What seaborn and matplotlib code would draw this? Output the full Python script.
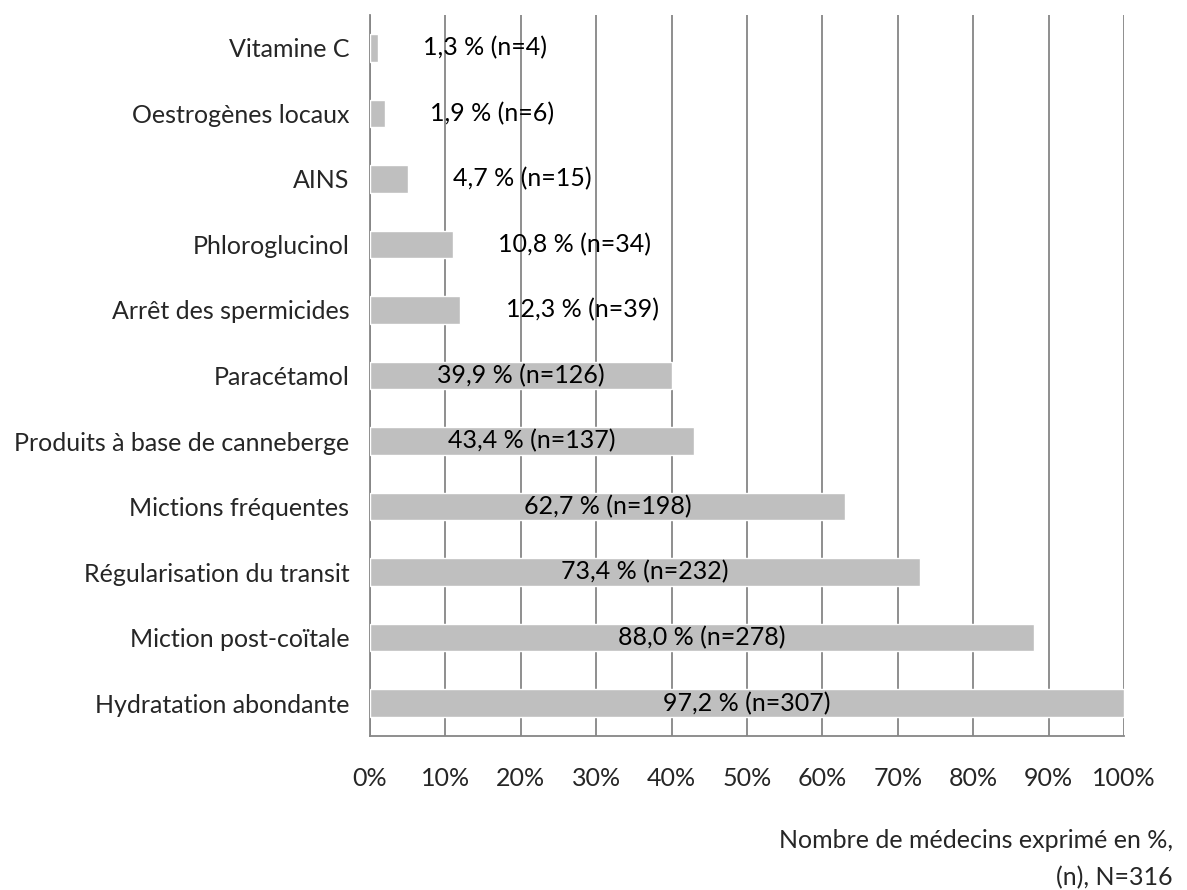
import matplotlib
matplotlib.use('Agg')
import matplotlib.pyplot as plt
import seaborn as sns
import pandas as pd
from matplotlib.ticker import MultipleLocator, FixedLocator, PercentFormatter

# Data (top to bottom)
categories = ['Vitamine C', 'Oestrogènes locaux', 'AINS', 'Phloroglucinol',
              'Arrêt des spermicides', 'Paracétamol', 'Produits à base de canneberge',
              'Mictions fréquentes', 'Régularisation du transit',
              'Miction post-coïtale', 'Hydratation abondante']
bar_values = [1, 2, 5, 11, 12, 40, 43, 63, 73, 88, 100]
labels = ['1,3 % (n=4)', '1,9 % (n=6)', '4,7 % (n=15)', '10,8 % (n=34)',
          '12,3 % (n=39)', '39,9 % (n=126)', '43,4 % (n=137)', '62,7 % (n=198)',
          '73,4 % (n=232)', '88,0 % (n=278)', '97,2 % (n=307)']

df = pd.DataFrame({'cat': categories, 'val': bar_values})

sns.set_style('white')
plt.rcParams['font.family'] = ['Lato', 'DejaVu Sans']
fs = 18
grey = '#868686'

fig = plt.figure(figsize=(11.87, 8.9), dpi=100)
ax = fig.add_axes([370 / 1187, 1 - 736 / 890, (1124 - 370) / 1187, (736 - 15) / 890])

sns.barplot(data=df, x='val', y='cat', orient='h', color='#BFBFBF',
            width=0.42, saturation=1, ax=ax, zorder=3)

ax.set_xlim(0, 100)
ax.set_ylim(len(categories) - 0.5, -0.5)
ax.xaxis.set_major_locator(MultipleLocator(10))
ax.xaxis.set_major_formatter(PercentFormatter(decimals=0))
ax.grid(axis='x', color=grey, linewidth=1.3, zorder=0)
ax.set_axisbelow(True)

# category boundary ticks on the y axis
ax.yaxis.set_minor_locator(FixedLocator([i - 0.5 for i in range(len(categories) + 1)]))
ax.tick_params(axis='y', which='major', length=0, pad=15, labelsize=fs)
ax.tick_params(axis='y', which='minor', length=9, width=1.3, color=grey, direction='out')
ax.tick_params(axis='x', which='major', length=8, width=1.3, color=grey, direction='out',
               pad=14, labelsize=fs)

for s in ['top', 'right']:
    ax.spines[s].set_visible(False)
for s in ['left', 'bottom']:
    ax.spines[s].set_color(grey)
    ax.spines[s].set_linewidth(1.3)

ax.set_xlabel('')
ax.set_ylabel('')

for i, (v, lab) in enumerate(zip(bar_values, labels)):
    if v < 20:
        ax.text(v + 6, i, lab, ha='left', va='center', fontsize=fs, color='black', zorder=4)
    else:
        ax.text(v / 2, i, lab, ha='center', va='center', fontsize=fs, color='black', zorder=4)

fig.text(1173 / 1187, 1 - 829 / 890, 'Nombre de médecins exprimé en %,\n(n), N=316',
         ha='right', va='top', fontsize=fs, linespacing=1.7, multialignment='right')

fig.savefig('out.png', dpi=100)
